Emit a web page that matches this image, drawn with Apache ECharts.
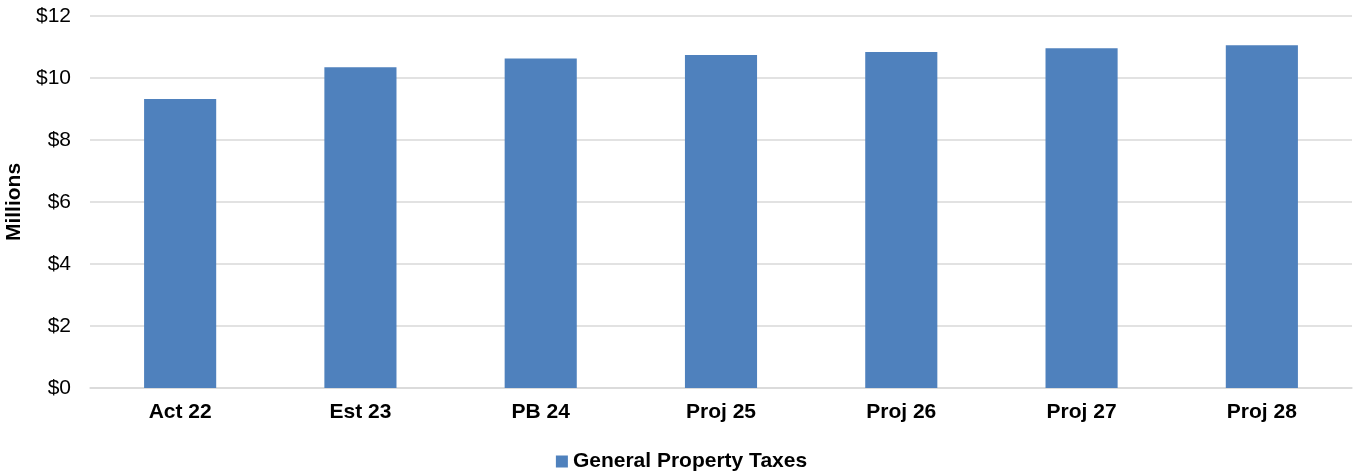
<!DOCTYPE html>
<html>
<head>
<meta charset="utf-8">
<script src="https://cdn.jsdelivr.net/npm/echarts@6/dist/echarts.min.js"></script>
<style>
  html, body { margin: 0; padding: 0; background: #fff; }
  #main { width: 1363px; height: 475px; }
</style>
</head>
<body>
<div id="main"></div>
<script>
// data (millions of dollars)
var categories = ['Act 22', 'Est 23', 'PB 24', 'Proj 25', 'Proj 26', 'Proj 27', 'Proj 28']
var propertyTaxes = [9.32, 10.35, 10.63, 10.74, 10.84, 10.96, 11.06]
var seriesName = 'General Property Taxes'

var chart = echarts.init(document.getElementById('main'))
var option = {
  animation: false,
  textStyle: { fontFamily: 'Liberation Sans, Arial, sans-serif' },
  grid: {
    left: 90,
    right: 11,
    top: 16,
    bottom: 87,
    containLabel: false,
    outerBoundsMode: 'none'
  },
  legend: {
    top: 451,
    left: 'center',
    padding: 0,
    itemWidth: 12,
    itemHeight: 12,
    itemGap: 3,
    icon: 'rect',
    textStyle: { color: '#000', fontSize: 21, fontWeight: 'bold', fontFamily: 'Liberation Sans, Arial, sans-serif' },
    data: [seriesName]
  },
  xAxis: {
    type: 'category',
    data: categories,
    axisTick: { show: false },
    axisLine: { lineStyle: { color: '#D9D9D9', width: 1.5 } },
    axisLabel: {
      color: '#000',
      fontSize: 21,
      fontWeight: 'bold',
      margin: 14
    }
  },
  yAxis: {
    type: 'value',
    min: 0,
    max: 12,
    interval: 2,
    name: 'Millions',
    nameLocation: 'middle',
    nameRotate: 90,
    nameGap: 58,
    nameTextStyle: { color: '#000', fontSize: 21, fontWeight: 'bold' },
    axisLine: { show: false },
    axisTick: { show: false },
    splitLine: { lineStyle: { color: '#D9D9D9', width: 1.5 } },
    axisLabel: {
      color: '#000',
      fontSize: 21,
      margin: 19,
      formatter: function (v) { return '$' + v }
    }
  },
  series: [
    {
      name: seriesName,
      type: 'bar',
      barWidth: '40%',
      itemStyle: { color: '#4F81BD' },
      data: propertyTaxes
    }
  ]
}
chart.setOption(option)
</script>
</body>
</html>
